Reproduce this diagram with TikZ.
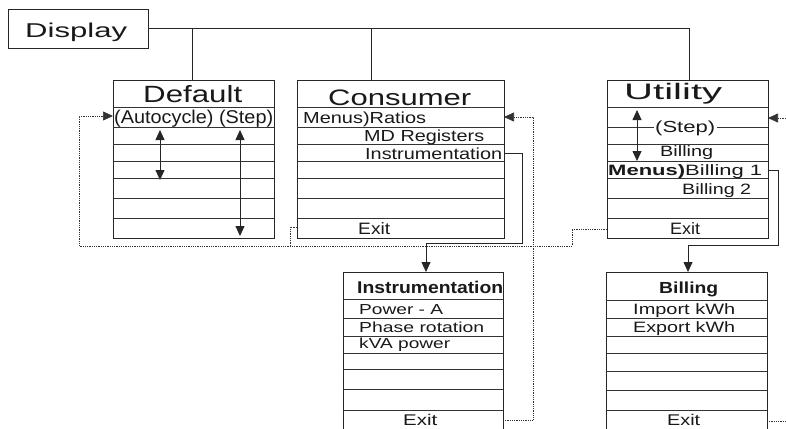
\documentclass[tikz,border=0pt]{standalone}
\usepackage{fontspec}
\setmainfont{Liberation Sans}
\usetikzlibrary{arrows.meta}
\newcommand\twd[3]{\fontsize{#1pt}{#1pt}\selectfont\resizebox{#2pt}{\height}{#3}}
\tikzset{
 box/.style={draw=black!85, line width=0.8pt, inner sep=0pt, outer sep=0pt, anchor=north west},
 rowline/.style={draw=black!80, line width=0.7pt},
 lbl/.style={inner sep=0pt, anchor=base west, text=black!90},
 wire/.style={draw=black!85, line width=0.8pt},
 dots/.style={draw=black!80, line width=0.7pt, dash pattern=on 0.9pt off 0.9pt},
 tip/.style={-{Triangle[length=10pt,width=9pt]}},
 tips/.style={{Triangle[length=10pt,width=9pt]}-{Triangle[length=10pt,width=9pt]}},
}
\begin{document}
\begin{tikzpicture}[x=1pt,y=-1pt]
\useasboundingbox (0,0) rectangle (786,428);
\clip (0,0) rectangle (786,428);
\fill[white] (0,0) rectangle (786,428);

% boxes
\node[box, minimum width=140pt, minimum height=39pt] (display) at (8,9) {};
\node[box, minimum width=161pt, minimum height=158pt] (default) at (113,80) {};
\node[box, minimum width=207pt, minimum height=158pt] (consumer) at (297,80) {};
\node[box, minimum width=161pt, minimum height=158pt] (utility) at (607,80) {};
\node[box, minimum width=160pt, minimum height=170pt] (instr) at (343,272) {};
\node[box, minimum width=161pt, minimum height=170pt] (billing) at (606,272) {};

% row lines
\foreach \y in {107,127.5,144,161.5,178.5,198,218.5}{
  \draw[rowline] (default.west |- 0,\y) -- (default.east |- 0,\y);
  \draw[rowline] (consumer.west |- 0,\y) -- (consumer.east |- 0,\y);
  \draw[rowline] (utility.west |- 0,\y) -- (utility.east |- 0,\y);
}
\foreach \y in {299,318,336,353,369,389,410}{
  \draw[rowline] (instr.west |- 0,\y) -- (instr.east |- 0,\y);
}
\foreach \y in {300,318,336,353,371,390,410}{
  \draw[rowline] (billing.west |- 0,\y) -- (billing.east |- 0,\y);
}

% top connectors
\coordinate (j1) at (192,28);
\coordinate (j2) at (371,28);
\coordinate (j3) at (689,28);
\draw[wire] (display.east |- j1) -- (j3) -- (j3 |- utility.north);
\draw[wire] (j1) -- (j1 |- default.north);
\draw[wire] (j2) -- (j2 |- consumer.north);

% labels
\node[lbl] (tdisplay) at (25,37.3) {\twd{20}{102}{Display}};
\node[lbl] (tdefault) at (143,102) {\twd{23.5}{99}{Default}};
\node[lbl] (tconsumer) at (328,105) {\twd{22.4}{143}{Consumer}};
\node[lbl] (tutility) at (624,99.3) {\twd{22.4}{98}{Utility}};

\node[lbl] (tauto) at (114,123.3) {\twd{18.5}{159}{(Autocycle) (Step)}};

\node[lbl] (tratios) at (303,123) {\twd{16}{123}{Menus)Ratios}};
\node[lbl] (tmd) at (364,141.5) {\twd{16}{120}{MD Registers}};
\node[lbl] (tinst) at (365,159) {\twd{16}{137}{Instrumentation}};
\node[lbl] (texitc) at (358,234) {\twd{16.5}{32}{Exit}};

\node[lbl, fill=white, inner xsep=1.5pt] (tstep) at (653.5,132.5) {\twd{16}{60}{(Step)}};
\node[lbl] (tbill) at (660,156.5) {\twd{15}{53}{Billing}};
\node[lbl] (tmenus) at (608,175.5) {\twd{15}{77}{\bfseries Menus)}};
\node[lbl] (tbill1) at (685,175.5) {\twd{15}{77}{Billing 1}};
\node[lbl] (tbill2) at (682,194) {\twd{15}{69}{Billing 2}};
\node[lbl] (texitu) at (670,234) {\twd{16.5}{30}{Exit}};

\node[lbl] (tinsth) at (357,293) {\twd{17}{146}{\bfseries Instrumentation}};
\node[lbl] (tpow) at (359,314) {\twd{14.5}{84}{Power - A}};
\node[lbl] (tphase) at (359,332) {\twd{14.5}{125}{Phase rotation}};
\node[lbl] (tkva) at (359,348.5) {\twd{14.5}{91}{kVA power}};
\node[lbl] (texiti) at (403,425.5) {\twd{15.5}{34}{Exit}};

\node[lbl] (tbillh) at (659,293) {\twd{16}{59}{\bfseries Billing}};
\node[lbl] (timp) at (633,314) {\twd{15}{102}{Import kWh}};
\node[lbl] (texp) at (633,332.5) {\twd{15}{102}{Export kWh}};
\node[lbl] (texitb) at (667,425.5) {\twd{15.5}{33}{Exit}};

% step arrows
\coordinate (a1) at (160,130); \coordinate (a2) at (160,180);
\coordinate (a3) at (240,130); \coordinate (a4) at (240,236);
\coordinate (a5) at (637,110); \coordinate (a6) at (637,161);
\draw[wire,tips] (a1) -- (a2);
\draw[wire,tips] (a3) -- (a4);
\draw[wire,tips] (a5) -- (a6);

% dotted returns
\coordinate (r1) at (572,229);
\coordinate (r2) at (572,246);
\coordinate (r3) at (79,246);
\coordinate (r4) at (79,116);
\draw[dots,tip] (utility.west |- r1) -- (r1) -- (r2) -- (r3) -- (r4) -- (default.west |- r4);
\coordinate (c1) at (290,227);
\coordinate (c2) at (290,246);
\draw[dots] (consumer.west |- c1) -- (c1) -- (c2);
\coordinate (u1) at (786,118);
\draw[dots,tip] (u1) -- (utility.east |- u1);
\coordinate (i1) at (533,420);
\coordinate (i2) at (533,117);
\draw[dots,tip] (instr.east |- i1) -- (i1) -- (i2) -- (consumer.east |- i2);
\coordinate (b1) at (786,421);
\draw[dots] (billing.east |- b1) -- (b1);

% solid links to sub menus
\coordinate (s1) at (522,153);
\coordinate (s2) at (522,243);
\coordinate (s3) at (426,243);
\draw[wire,tip] (consumer.east |- s1) -- (s1) -- (s2) -- (s3) -- (s3 |- instr.north);
\coordinate (k1) at (778,170);
\coordinate (k2) at (778,245);
\coordinate (k3) at (688,245);
\draw[wire,tip] (utility.east |- k1) -- (k1) -- (k2) -- (k3) -- (k3 |- billing.north);
\end{tikzpicture}
\end{document}
